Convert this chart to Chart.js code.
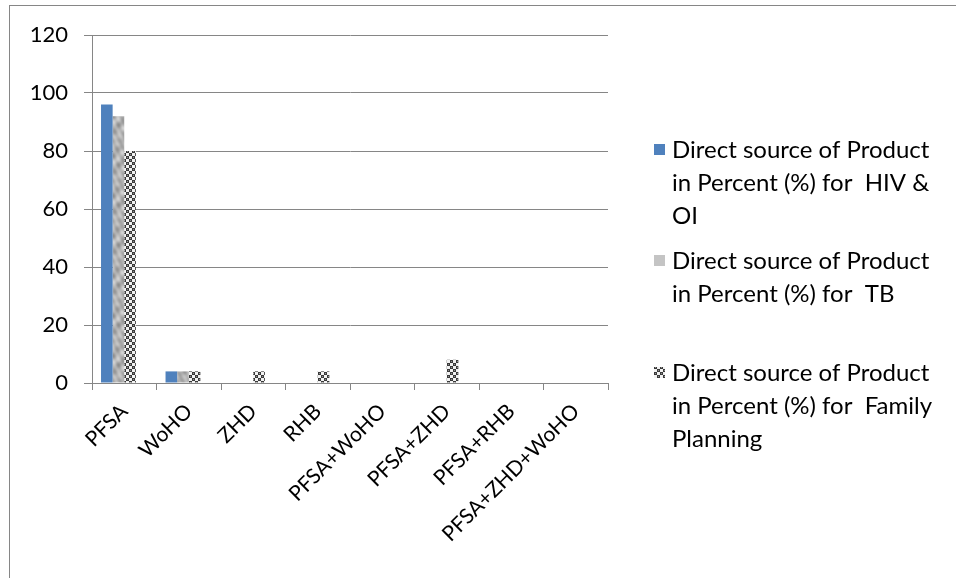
<!DOCTYPE html>
<html>
<head>
<meta charset="utf-8">
<script src="https://cdn.jsdelivr.net/npm/chart.js@4/dist/chart.umd.min.js"></script>
<style>
  html, body { margin: 0; padding: 0; background: #ffffff; }
  #wrap { width: 956px; height: 578px; position: relative; }
</style>
</head>
<body>
<div id="wrap"><canvas id="c" width="956" height="578"></canvas></div>
<script>
// Sources of supply
const categories = ['PFSA', 'WoHO', 'ZHD', 'RHB', 'PFSA+WoHO', 'PFSA+ZHD', 'PFSA+RHB', 'PFSA+ZHD+WoHO'];

// Share of facilities (%) by direct source, per programme
const hivOi = [96, 4, 0, 0, 0, 0, 0, 0];
const tb = [92, 4, 0, 0, 0, 0, 0, 0];
const familyPlanning = [80, 4, 4, 4, 0, 8, 0, 0];

const yTicks = [0, 20, 40, 60, 80, 100, 120];

// Legend text, split as it wraps in the side panel
const seriesLabels = [
  ['Direct source of Product', 'in Percent (%) for  HIV &', 'OI'],
  ['Direct source of Product', 'in Percent (%) for  TB'],
  ['Direct source of Product', 'in Percent (%) for  Family', 'Planning']
];

const FONT = 'Lato, "Open Sans", sans-serif';

// Mottled grey fill
function marbleFill() {
  const w = 14, h = 40;
  const t = document.createElement('canvas');
  t.width = w; t.height = h;
  const g = t.getContext('2d');
  const img = g.createImageData(w, h);
  for (let y = 0; y < h; y++) {
    for (let x = 0; x < w; x++) {
      const a = 2 * Math.PI * x / w, b = 2 * Math.PI * y / h;
      const v = Math.sin(a + 2 * b) * 0.6 + Math.cos(2 * a - 3 * b) * 0.5 + Math.sin(3 * b + a) * 0.35 + Math.cos(5 * b) * 0.25;
      const c = Math.round(178 + v * 22);
      const i = (y * w + x) * 4;
      img.data[i] = c; img.data[i + 1] = c; img.data[i + 2] = c; img.data[i + 3] = 255;
    }
  }
  g.putImageData(img, 0, 0);
  return g.createPattern(t, 'repeat');
}

// Dark diamond weave fill
function weaveFill() {
  const t = document.createElement('canvas');
  t.width = 6; t.height = 6;
  const g = t.getContext('2d');
  g.fillStyle = '#f2f2f2';
  g.fillRect(0, 0, 6, 6);
  g.fillStyle = '#3a3a3a';
  g.fillRect(0, 0, 3, 3);
  g.fillRect(3, 3, 3, 3);
  g.fillStyle = '#8c8c8c';
  g.fillRect(1, 1, 1, 1);
  g.fillRect(4, 4, 1, 1);
  return g.createPattern(t, 'repeat');
}

const fills = ['#4f81bd', marbleFill(), weaveFill()];
const legendFills = ['#4f81bd', '#c4c4c4', weaveFill()];

// Outer frame and wrapped side legend
const framePlugin = {
  id: 'frameAndLegend',
  afterDraw(chart) {
    const ctx = chart.ctx;
    const area = chart.chartArea;
    ctx.save();
    ctx.strokeStyle = '#868686';
    ctx.lineWidth = 1;
    ctx.strokeRect(9.5, 5.5, 1200, 1200);

    const boxX = area.right + 46;
    const textX = area.right + 64;
    const starts = [150, 261, 373];
    const lineH = 33;
    ctx.font = '24px ' + FONT;
    ctx.textBaseline = 'middle';
    ctx.textAlign = 'left';
    seriesLabels.forEach((lines, i) => {
      const y0 = starts[i];
      ctx.fillStyle = legendFills[i];
      ctx.fillRect(boxX, y0 - 6, 11, 11);
      ctx.fillStyle = '#000000';
      lines.forEach((ln, k) => ctx.fillText(ln, textX, y0 + k * lineH));
    });
    ctx.restore();
  }
};

new Chart(document.getElementById('c'), {
  type: 'bar',
  data: {
    labels: categories,
    datasets: [
      { label: seriesLabels[0].join(' '), data: hivOi, backgroundColor: fills[0] },
      { label: seriesLabels[1].join(' '), data: tb, backgroundColor: fills[1] },
      { label: seriesLabels[2].join(' '), data: familyPlanning, backgroundColor: fills[2] },
      // empty fourth slot in each group, so the three bars sit left of centre
      { label: '', data: [], backgroundColor: 'rgba(0,0,0,0)' }
    ]
  },
  options: {
    responsive: false,
    animation: false,
    layout: { padding: { left: 0, top: 35, right: 348, bottom: 0 } },
    datasets: { bar: { categoryPercentage: 0.72, barPercentage: 1.0 } },
    plugins: { legend: { display: false }, tooltip: { enabled: false } },
    scales: {
      x: {
        grid: { drawOnChartArea: false, drawTicks: true, tickLength: 7, color: '#868686' },
        border: { color: '#868686', width: 1 },
        ticks: {
          color: '#000000', font: { family: FONT, size: 21 },
          minRotation: 45, maxRotation: 45, padding: 9, autoSkip: false
        },
        afterFit(scale) { scale.height = 195; }
      },
      y: {
        min: 0, max: 120,
        afterBuildTicks(scale) { scale.ticks = yTicks.map(v => ({ value: v })); },
        grid: { color: '#868686', tickLength: 8 },
        border: { color: '#868686', width: 1 },
        ticks: { color: '#000000', font: { family: FONT, size: 22 }, padding: 16 },
        afterFit(scale) { scale.width = 92; }
      }
    }
  },
  plugins: [framePlugin]
});
</script>
</body>
</html>
